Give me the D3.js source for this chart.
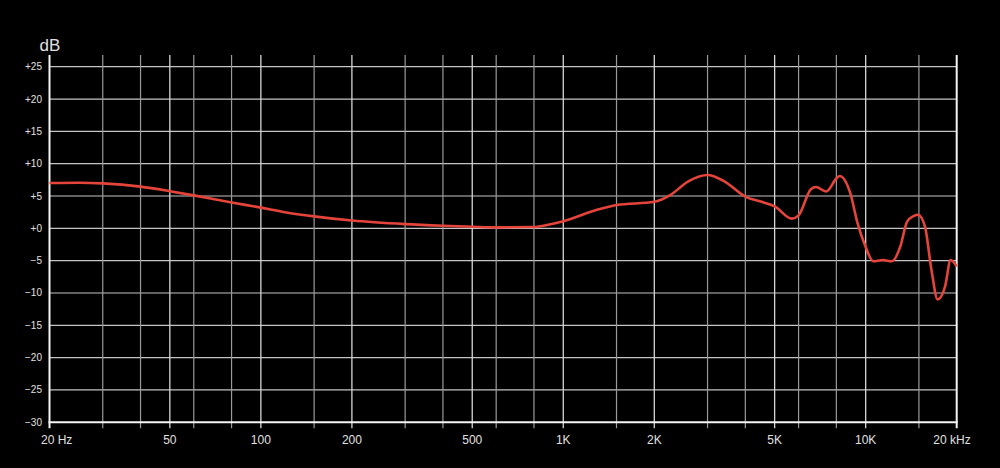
<!DOCTYPE html>
<html>
<head>
<meta charset="utf-8">
<script src="https://cdn.jsdelivr.net/npm/d3@7"></script>
<style>
  html, body { margin: 0; padding: 0; background: #000; }
  svg { display: block; }
  text { font-family: "Liberation Sans", Arial, sans-serif; fill: #e0e0e0; }
</style>
</head>
<body>
<div id="chart"></div>
<script>
// frequency response
var freqs = [20, 25, 30, 40, 50, 60, 80, 100, 120, 150, 200, 300, 400, 500, 600, 800, 900,
    1000, 1300, 1500, 2000, 2250, 2600, 3000, 3400, 4000, 4600, 5000, 5700, 6000, 6600, 6850,
    7400, 8000, 8200, 8900, 9400, 10000, 10600, 11400, 12200, 13000, 13700, 14400, 14900,
    15700, 16500, 17300, 18300, 19100, 20000];
var levels = [7.0, 7.05, 6.95, 6.45, 5.75, 5.1, 4.0, 3.2, 2.5, 1.85, 1.2, 0.65, 0.4, 0.25, 0.15, 0.2, 0.6,
    1.1, 2.9, 3.6, 4.1, 5.1, 7.3, 8.25, 7.3, 4.9, 4.0, 3.4, 1.5, 2.0, 6.1, 6.4,
    5.7, 7.7, 8.1, 5.4, 0.8, -2.9, -5.1, -4.9, -5.1, -2.9, 1.0, 1.9, 2.1,
    0.3, -6.4, -11.0, -9.0, -4.9, -5.9];

var majorFreqs = [50, 100, 200, 500, 1000, 2000, 5000, 10000];
var minorFreqs = [30, 40, 60, 80, 150, 300, 400, 600, 800, 1500, 3000, 4000, 6000, 8000, 15000];
var dbTicks = [25, 20, 15, 10, 5, 0, -5, -10, -15, -20, -25, -30];
var freqLabelValues = [20, 50, 100, 200, 500, 1000, 2000, 5000, 10000, 20000];
var freqLabels = ["20 Hz", "50", "100", "200", "500", "1K", "2K", "5K", "10K", "20 kHz"];

var width = 1000, height = 468;
var gridTop = 55, tickLen = 6;

var svg = d3.select("#chart").append("svg")
    .attr("width", width)
    .attr("height", height);

svg.append("rect").attr("width", width).attr("height", height).attr("fill", "#000");

var x = d3.scaleLog().domain([20, 20000]).range([49.5, 956.7]);
var y = d3.scaleLinear().domain([-30, 25]).range([422.3, 66.7]);

var bottom = y(-30);

// horizontal grid
svg.append("g").selectAll("line")
    .data(dbTicks.filter(function(d) { return d > -30; }))
    .enter().append("line")
    .attr("x1", x(20)).attr("x2", x(20000))
    .attr("y1", function(d) { return y(d); })
    .attr("y2", function(d) { return y(d); })
    .attr("stroke", "#c4c4c4")
    .attr("stroke-width", 1.2);

// vertical grid
svg.append("g").selectAll("line")
    .data(minorFreqs)
    .enter().append("line")
    .attr("x1", function(d) { return x(d); })
    .attr("x2", function(d) { return x(d); })
    .attr("y1", gridTop).attr("y2", bottom + tickLen)
    .attr("stroke", "#9a9a9a")
    .attr("stroke-width", 1.2);

svg.append("g").selectAll("line")
    .data(majorFreqs)
    .enter().append("line")
    .attr("x1", function(d) { return x(d); })
    .attr("x2", function(d) { return x(d); })
    .attr("y1", gridTop).attr("y2", bottom + tickLen)
    .attr("stroke", "#d6d6d6")
    .attr("stroke-width", 1.3);

// frame: left, right, bottom
svg.append("g").selectAll("line")
    .data([20, 20000])
    .enter().append("line")
    .attr("x1", function(d) { return x(d); })
    .attr("x2", function(d) { return x(d); })
    .attr("y1", gridTop).attr("y2", bottom + tickLen)
    .attr("stroke", "#f4f4f4")
    .attr("stroke-width", 2);

svg.append("line")
    .attr("x1", x(20) - 1).attr("x2", x(20000) + 1)
    .attr("y1", bottom).attr("y2", bottom)
    .attr("stroke", "#f4f4f4")
    .attr("stroke-width", 2);

// y labels
svg.append("g").selectAll("text")
    .data(dbTicks)
    .enter().append("text")
    .attr("x", 42)
    .attr("y", function(d) { return y(d); })
    .attr("dy", "0.35em")
    .attr("text-anchor", "end")
    .style("font-size", "10px")
    .text(function(d) { return d >= 0 ? "+" + d : "\u2212" + Math.abs(d); });

svg.append("text")
    .attr("x", 50).attr("y", 51)
    .attr("text-anchor", "middle")
    .style("font-size", "17px")
    .text("dB");

// x labels
svg.append("g").selectAll("text")
    .data(freqLabelValues)
    .enter().append("text")
    .attr("x", function(d, i) {
        if (i === 0) return x(d) - 8.5;
        if (i === freqLabelValues.length - 1) return x(d) + 14;
        return x(d);
    })
    .attr("y", 444)
    .attr("text-anchor", function(d, i) {
        if (i === 0) return "start";
        if (i === freqLabelValues.length - 1) return "end";
        return "middle";
    })
    .style("font-size", "12px")
    .text(function(d, i) { return freqLabels[i]; });

// response curve
var line = d3.line()
    .x(function(d) { return x(d[0]); })
    .y(function(d) { return y(d[1]); })
    .curve(d3.curveMonotoneX);

svg.append("path")
    .datum(d3.zip(freqs, levels))
    .attr("d", line)
    .attr("fill", "none")
    .attr("stroke", "#e5443a")
    .attr("stroke-width", 2.6)
    .attr("stroke-linejoin", "round");
</script>
</body>
</html>
